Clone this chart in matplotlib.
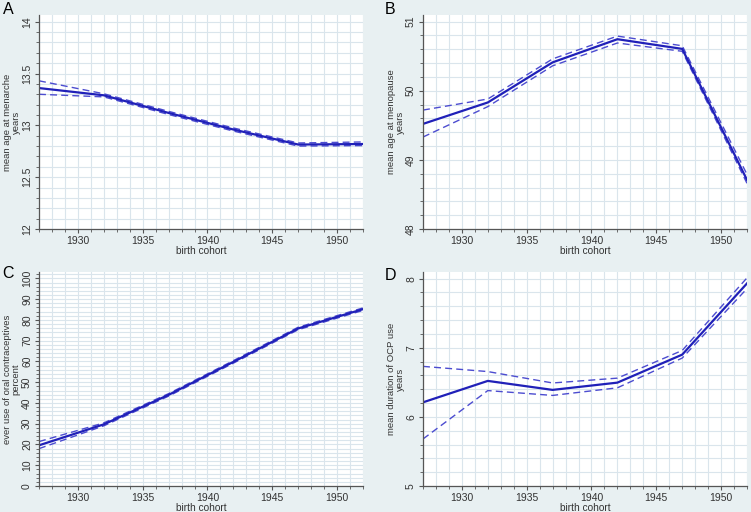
import matplotlib
matplotlib.use("Agg")
import matplotlib.pyplot as plt
from matplotlib.ticker import MultipleLocator

plt.rcParams['font.family'] = ['Liberation Sans', 'DejaVu Sans']

# birth cohorts (5-year knots)
years = [1927, 1932, 1937, 1942, 1947, 1952]

# A: age at menarche
menarche_mean = [13.36, 13.29, 13.12, 12.96, 12.815, 12.82]
menarche_hi = [13.43, 13.305, 13.135, 12.975, 12.83, 12.84]
menarche_lo = [13.30, 13.275, 13.105, 12.945, 12.80, 12.805]

# B: age at menopause
menopause_mean = [49.52, 49.83, 50.41, 50.745, 50.605, 48.71]
menopause_hi = [49.72, 49.88, 50.46, 50.79, 50.65, 48.79]
menopause_lo = [49.33, 49.77, 50.36, 50.69, 50.57, 48.66]

# C: ever use of oral contraceptives
ocp_mean = [19.6, 29.7, 43.9, 59.8, 75.9, 85.2]
ocp_hi = [21.4, 30.4, 44.5, 60.4, 76.5, 85.8]
ocp_lo = [18.0, 29.0, 43.3, 59.2, 75.3, 84.6]

# D: duration of OCP use
dur_mean = [6.21, 6.52, 6.39, 6.495, 6.90, 7.93]
dur_hi = [6.73, 6.655, 6.49, 6.56, 6.96, 8.01]
dur_lo = [5.68, 6.38, 6.31, 6.42, 6.85, 7.855]

bg = "#e8f0f2"
grid_col = "#dae5ec"
line_col = "#2020b8"
dash_col = "#4c4cd0"
txt_col = "#333333"

W, H = 751, 512
fig = plt.figure(figsize=(W / 100, H / 100), dpi=100, facecolor=bg)

panels = [
    # label, letter position, pixel box (x0, y_top, x1, y_bottom), data, ylim, minor step, ylabel
    ("A", (8, 9), (39, 15, 363, 229), menarche_mean, menarche_hi, menarche_lo,
     (12, 14.065), 0.1, "mean age at menarche\nyears", ["12", "12.5", "13", "13.5", "14"]),
    ("B", (390, 9), (423, 15, 747, 229), menopause_mean, menopause_hi, menopause_lo,
     (48, 51.095), 0.2, "mean age at menopause\nyears", ["48", "49", "50", "51"]),
    ("C", (8, 274), (39, 272, 363, 486), ocp_mean, ocp_hi, ocp_lo,
     (0, 103.1), 2, "ever use of oral contraceptives\npercent",
     [str(v) for v in range(0, 101, 10)]),
    ("D", (391, 276), (423, 272, 747, 486), dur_mean, dur_hi, dur_lo,
     (5, 8.095), 0.2, "mean duration of OCP use\nyears", ["5", "6", "7", "8"]),
]

for label, lpos, box, mean, hi, lo, ylim, minor, ylab, yticklabels in panels:
    x0, yt, x1, yb = box
    ax = fig.add_axes([x0 / W, 1 - yb / H, (x1 - x0) / W, (yb - yt) / H])
    ax.set_facecolor("white")
    ax.plot(years, hi, color=dash_col, lw=1.0, ls=(0, (5, 3)))
    ax.plot(years, lo, color=dash_col, lw=1.0, ls=(0, (5, 3)))
    ax.plot(years, mean, color=line_col, lw=1.6)
    ax.set_xlim(1927, 1952)
    ax.set_ylim(*ylim)
    ax.xaxis.set_minor_locator(MultipleLocator(1))
    ax.yaxis.set_minor_locator(MultipleLocator(minor))
    ax.set_xticks([1930, 1935, 1940, 1945, 1950])
    ax.set_yticks([float(v) for v in yticklabels])
    ax.set_yticklabels(yticklabels, rotation=90, va="center")
    ax.grid(True, which="both", color=grid_col, lw=0.8)
    ax.set_axisbelow(True)
    for s in ["top", "right"]:
        ax.spines[s].set_visible(False)
    for s in ["left", "bottom"]:
        ax.spines[s].set_color("#555555")
        ax.spines[s].set_linewidth(0.9)
    ax.tick_params(which="major", length=3, width=0.8, color="#555555",
                   labelsize=7.5, labelcolor=txt_col, pad=2)
    ax.tick_params(which="minor", length=2, width=0.6, color="#555555")
    ax.set_xlabel("birth cohort", fontsize=7.3, color=txt_col, labelpad=0)
    ax.set_ylabel(ylab, fontsize=6.8, color=txt_col, labelpad=1, linespacing=1.0)
    fig.text(lpos[0] / W, 1 - lpos[1] / H, label, fontsize=11.5,
             va="center", ha="center", color="black")

fig.savefig("out.png", dpi=100, facecolor=bg)
